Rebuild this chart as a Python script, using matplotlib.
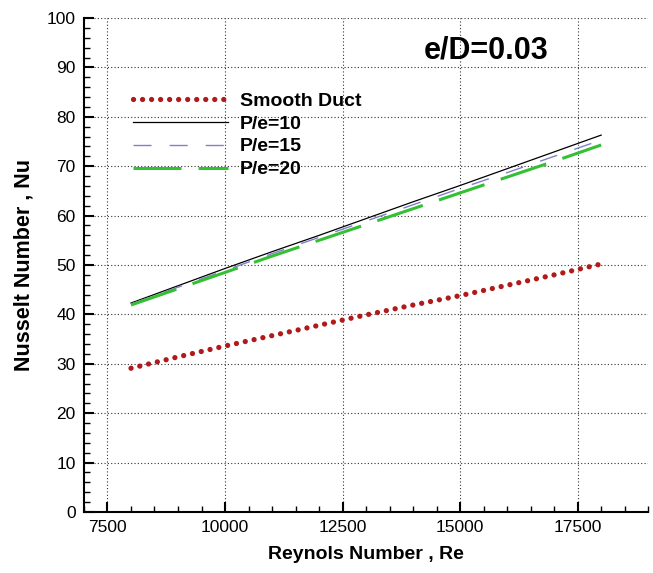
"""Nusselt number vs Reynolds number for ribbed duct, e/D=0.03."""

import matplotlib.pyplot as plt
from matplotlib.ticker import MultipleLocator

plt.rcParams["font.family"] = ["Liberation Sans", "DejaVu Sans"]

re = [8000, 9000, 10000, 11000, 12000, 13000, 14000, 15000, 16000, 17000, 18000]
nu_smooth = [29.1, 31.4, 33.6, 35.7, 37.8, 39.9, 41.9, 43.8, 45.9, 48.0, 50.2]
nu_pe10 = [42.3, 45.8, 49.3, 52.7, 56.0, 59.4, 62.8, 66.1, 69.5, 72.9, 76.3]
nu_pe15 = [42.1, 45.5, 48.9, 52.3, 55.6, 58.9, 62.2, 65.5, 68.7, 72.0, 75.3]
nu_pe20 = [41.9, 45.2, 48.5, 51.8, 55.0, 58.2, 61.4, 64.6, 67.8, 71.0, 74.3]

fig = plt.figure(figsize=(6.53, 5.73), dpi=100)
ax = fig.add_axes([0.1286, 0.1065, 0.864, 0.862])

ax.plot(re, nu_smooth, color="#B01A1A", lw=3.8, linestyle=(0, (0.01, 1.7)),
        dash_capstyle="round", label="Smooth Duct")
ax.plot(re, nu_pe10, color="black", lw=0.9, label="P/e=10")
ax.plot(re, nu_pe15, color="#8080C8", lw=1.0, linestyle=(0, (13, 13)), label="P/e=15")
ax.plot(re, nu_pe20, color="#33C033", lw=2.2, linestyle=(0, (15.7, 5.6)), label="P/e=20")

ax.set_xlim(7000, 19000)
ax.set_ylim(0, 100)
ax.xaxis.set_major_locator(MultipleLocator(2500))
ax.xaxis.set_minor_locator(MultipleLocator(500))
ax.yaxis.set_major_locator(MultipleLocator(10))
ax.yaxis.set_minor_locator(MultipleLocator(2))
ax.tick_params(which="major", direction="in", length=7, width=1.5, labelsize=12.5, pad=6)
ax.tick_params(which="minor", direction="in", length=4, width=1)
ax.grid(True, which="major", linestyle=(0, (1, 2)), color="#333333", lw=0.8)

for side in ("top", "right"):
    ax.spines[side].set_visible(False)
for side in ("left", "bottom"):
    ax.spines[side].set_linewidth(1.5)

ax.set_xlabel("Reynols Number , Re", fontsize=14, fontweight="bold", labelpad=8)
ax.set_ylabel("Nusselt Number , Nu", fontsize=15.5, fontweight="bold", labelpad=9)

ax.text(0.713, 0.935, "e/D=0.03", transform=ax.transAxes, fontsize=22,
        fontweight="bold", ha="center", va="center")

leg = ax.legend(loc="upper left", bbox_to_anchor=(0.087, 0.85), frameon=False,
                handlelength=4.9, handletextpad=0.6, labelspacing=0.27,
                prop={"size": 14, "weight": "bold"}, borderaxespad=0, borderpad=0)

fig.savefig("out.png", dpi=100)
